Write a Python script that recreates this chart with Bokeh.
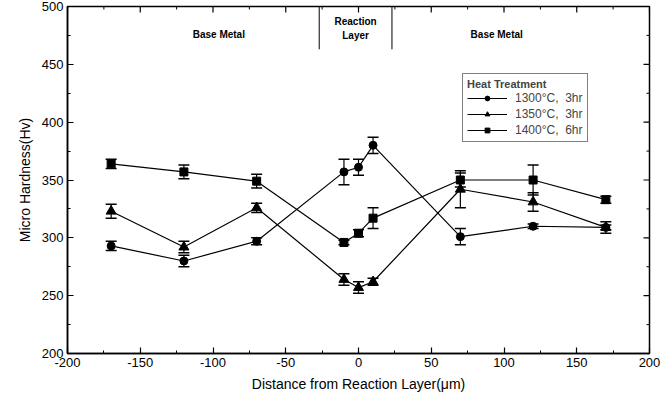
from bokeh.plotting import figure
from bokeh.models import (Legend, LegendItem, Whisker, TeeHead,
                          ColumnDataSource, FixedTicker, Range1d)
from bokeh.core.properties import value
from bokeh.embed import file_html
from bokeh.resources import INLINE

# ---- data ----
distance = [-170, -120, -70, -10, 0, 10, 70, 120, 170]

hv_1300 = [293, 280, 297, 357, 361, 380, 301, 310, 309]
err_1300 = [4, 5, 3, 11, 7, 7, 7, 2, 2]

hv_1350 = [323, 292, 326, 264, 257, 262, 342, 331, 309]
err_1350 = [6, 5, 4, 5, 5, 3, 16, 8, 5]

hv_1400 = [364, 357, 349, 296, 304, 317, 350, 350, 333]
err_1400 = [4, 6, 6, 2, 3, 9, 6, 13, 3]

series_labels = ["1300\u00b0C,  3hr", "1350\u00b0C,  3hr", "1400\u00b0C,  6hr"]
legend_title = "Heat Treatment"

x_ticks = [-200, -150, -100, -50, 0, 50, 100, 150, 200]
y_ticks = [200, 250, 300, 350, 400, 450, 500]
x_minor = list(range(-175, 200, 50))
y_minor = list(range(225, 500, 50))

layer_bounds = [-27, 23]
region_labels = ["Base Metal", "Reaction\nLayer", "Base Metal"]
region_x = [-96, -2, 95]

FONT = "Liberation Sans"
X0, X1, Y0, Y1 = -200, 200, 200, 500

p = figure(width=664, height=405, output_backend="svg", toolbar_location=None,
           x_range=Range1d(X0, X1), y_range=Range1d(Y0, Y1),
           min_border_left=67, min_border_right=15, min_border_top=6,
           min_border_bottom=52)
p.outline_line_color = "black"
p.outline_line_width = 1.5
p.xgrid.visible = False
p.ygrid.visible = False

for ax in (p.xaxis[0], p.yaxis[0]):
    ax.axis_line_color = "black"
    ax.axis_line_width = 1.5
    ax.major_tick_in = 6
    ax.major_tick_out = 0
    ax.minor_tick_in = 3
    ax.minor_tick_out = 0
    ax.major_tick_line_color = "black"
    ax.minor_tick_line_color = "black"
    ax.major_tick_line_width = 1.2
    ax.major_label_text_font = FONT
    ax.major_label_text_font_size = "13px"
    ax.major_label_text_color = "black"
    ax.axis_label_text_font = FONT
    ax.axis_label_text_font_size = "14px"
    ax.axis_label_text_font_style = "normal"
    ax.axis_label_text_color = "black"
    ax.major_label_standoff = 4
    ax.axis_label_standoff = 6

p.xaxis.ticker = FixedTicker(ticks=x_ticks, minor_ticks=x_minor)
p.yaxis.ticker = FixedTicker(ticks=y_ticks, minor_ticks=y_minor)
p.xaxis.major_label_overrides = {t: str(t) for t in x_ticks}
p.xaxis.axis_label = "Distance from Reaction Layer(\u03bcm)"
p.yaxis.axis_label = "Micro Hardness(Hv)"

# mirrored inward ticks on the top and right frame edges
px_x = (X1 - X0) / 582.0
px_y = (Y1 - Y0) / 347.0
p.segment(x0=x_ticks, x1=x_ticks, y0=[Y1] * len(x_ticks),
          y1=[Y1 - 6 * px_y] * len(x_ticks), line_color="black", line_width=1.2)
p.segment(x0=x_minor, x1=x_minor, y0=[Y1] * len(x_minor),
          y1=[Y1 - 3 * px_y] * len(x_minor), line_color="black", line_width=1)
p.segment(x0=[X1] * len(y_ticks), x1=[X1 - 6 * px_x] * len(y_ticks),
          y0=y_ticks, y1=y_ticks, line_color="black", line_width=1.2)
p.segment(x0=[X1] * len(y_minor), x1=[X1 - 3 * px_x] * len(y_minor),
          y0=y_minor, y1=y_minor, line_color="black", line_width=1)

items = []
specs = [(hv_1300, err_1300, "circle", 8), (hv_1350, err_1350, "triangle", 10),
         (hv_1400, err_1400, "square", 8)]
for (vals, errs, marker, size), lab in zip(specs, series_labels):
    src = ColumnDataSource(dict(x=distance, y=vals,
                                lo=[v - e for v, e in zip(vals, errs)],
                                hi=[v + e for v, e in zip(vals, errs)]))
    w = Whisker(source=src, base="x", lower="lo", upper="hi", line_color="black",
                line_width=1.2,
                upper_head=TeeHead(size=11, line_color="black", line_width=1.5),
                lower_head=TeeHead(size=11, line_color="black", line_width=1.5))
    p.add_layout(w)
    ln = p.line("x", "y", source=src, line_color="black", line_width=1.2)
    mk = p.scatter("x", "y", source=src, marker=marker, size=size,
                   fill_color="black", line_color="black")
    items.append(LegendItem(label=lab, renderers=[ln, mk]))

# reaction layer boundaries
p.segment(x0=layer_bounds, x1=layer_bounds, y0=[463, 463], y1=[500, 500],
          line_color="black", line_width=1)

p.text(x=region_x, y=[476, 481, 476], text=region_labels,
       text_font=value(FONT), text_font_size="10px", text_align="center",
       text_baseline="middle", text_color="black", text_line_height=1.3,
       text_font_style="bold")

legend = Legend(items=items, location=(395, 211), title=legend_title,
                title_text_font=FONT, title_text_font_size="11px",
                title_text_font_style="bold", title_standoff=1,
                label_text_font=FONT, label_text_font_size="12px",
                label_height=12, glyph_height=12, glyph_width=40,
                label_standoff=8, spacing=2, padding=4, margin=0,
                border_line_color="black", border_line_width=1.2,
                background_fill_alpha=1)
p.add_layout(legend)

open("out.html", "w").write(file_html(p, INLINE))
